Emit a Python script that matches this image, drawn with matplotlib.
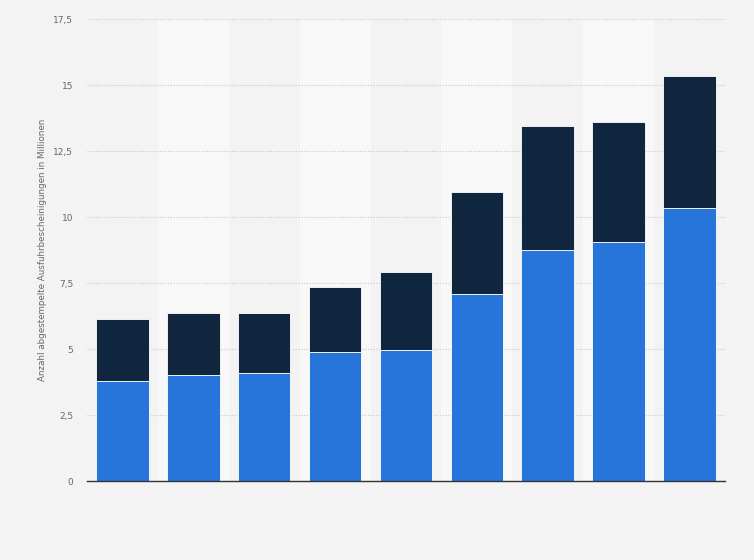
import matplotlib
matplotlib.use("Agg")
import matplotlib.pyplot as plt
from matplotlib.ticker import FixedLocator

# values (millions)
bottom_part = [3.8, 4.0, 4.1, 4.9, 4.95, 7.1, 8.75, 9.05, 10.35]
top_part = [2.35, 2.35, 2.25, 2.45, 2.95, 3.85, 4.7, 4.55, 5.0]
y_ticks = [0, 2.5, 5, 7.5, 10, 12.5, 15, 17.5]
y_tick_labels = ["0", "2,5", "5", "7,5", "10", "12,5", "15", "17,5"]

fig = plt.figure(figsize=(7.54, 5.6), dpi=100)
fig.patch.set_facecolor("#f3f3f3")
ax = fig.add_axes([0.1154, 0.141, 0.846, 0.825])
ax.set_facecolor("#f3f3f3")

x = list(range(len(bottom_part)))

# alternating lighter column bands
for i in x:
    if i % 2 == 1:
        ax.axvspan(i - 0.5, i + 0.5, color="#f8f8f8", zorder=0, lw=0)

ax.bar(x, bottom_part, width=0.74, color="#2775db", edgecolor="white",
       linewidth=0.6, zorder=3)
ax.bar(x, top_part, width=0.74, bottom=bottom_part, color="#10263e",
       edgecolor="white", linewidth=0.6, zorder=3)

ax.set_xlim(-0.5, len(x) - 0.5)
ax.set_ylim(0, 17.5)
ax.yaxis.set_major_locator(FixedLocator(y_ticks))
ax.set_yticklabels(y_tick_labels)
ax.set_xticks([])
ax.tick_params(axis="y", length=0, pad=10, labelsize=6.5, labelcolor="#666666")
ax.grid(axis="y", color="#c8c8c8", linestyle=(0, (1, 1.5)), linewidth=0.8, zorder=1)

for side in ["top", "right", "left"]:
    ax.spines[side].set_visible(False)
ax.spines["bottom"].set_color("#333333")
ax.spines["bottom"].set_linewidth(1.0)
ax.spines["bottom"].set_zorder(4)

ax.set_ylabel("Anzahl abgestempelte Ausfuhrbescheinigungen in Millionen",
              fontsize=6.3, color="#666666")
ax.yaxis.set_label_coords(-0.062, 0.5)

fig.savefig("out.png", dpi=100, facecolor=fig.get_facecolor())
